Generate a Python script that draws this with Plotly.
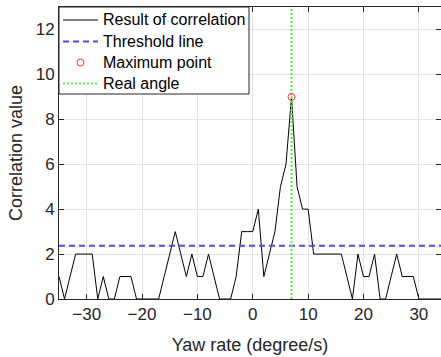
import plotly.graph_objects as go

# Yaw-rate candidates (degree/s) and correlation result at each
yaw_rate = list(range(-35, 35))
correlation = [1, 0, 1, 2, 2, 2, 2, 0, 1, 0,
               0, 1, 1, 1, 0, 0, 0, 0, 0, 1,
               2, 3, 2, 1, 2, 1, 1, 2, 1, 0,
               0, 0, 1, 3, 3, 3, 4, 1, 2, 3,
               5, 6, 9, 5, 4, 4, 2, 2, 2, 2,
               2, 2, 1, 0, 2, 1, 1, 2, 0, 0,
               1, 2, 1, 1, 1, 0, 0, 0, 0, 0]
threshold = 2.37
real_angle = 7
x_range = [-35, 34]
y_range = [0, 13]
legend_labels = ["Result of correlation", "Threshold line", "Maximum point", "Real angle"]

peak_idx = max(range(len(correlation)), key=lambda i: correlation[i])
peak_x = yaw_rate[peak_idx]
peak_y = correlation[peak_idx]

text_color = "#262626"
font_family = "Liberation Sans, Arial, Helvetica, sans-serif"
c_corr = "black"
c_thr = "#4a4aff"
c_peak = "#ff3030"
c_real = "#55ee55"

W, H = 441, 357
ML, MR, MT, MB = 59, 0, 7, 58
PW, PH = W - ML - MR, H - MT - MB


def px_x(p):
    return (p - ML) / PW


def px_y(p):
    return (H - MB - p) / PH


fig = go.Figure()
fig.add_trace(go.Scatter(
    x=yaw_rate, y=correlation, mode="lines",
    line=dict(color=c_corr, width=1), name=legend_labels[0]))
fig.add_trace(go.Scatter(
    x=x_range, y=[threshold, threshold], mode="lines",
    line=dict(color=c_thr, width=2.2, dash="6px,4px"), name=legend_labels[1]))
fig.add_trace(go.Scatter(
    x=[real_angle, real_angle], y=y_range, mode="lines",
    line=dict(color=c_real, width=2.2, dash="2px,2px"), name=legend_labels[3]))
fig.add_trace(go.Scatter(
    x=[peak_x], y=[peak_y], mode="markers",
    marker=dict(symbol="circle-open", color=c_peak, size=7, line=dict(width=1)),
    name=legend_labels[2]))

# Boxed legend in the upper-left corner, drawn with shapes and annotations
box_l, box_r, box_t, box_b = 59, 249, 7, 94
row_y = [20, 41.5, 62.5, 83.5]
sample_l, sample_r, text_x = 63, 98, 101
shapes = [dict(type="rect", xref="paper", yref="paper",
               x0=px_x(box_l), x1=px_x(box_r), y0=px_y(box_b), y1=px_y(box_t),
               fillcolor="white", line=dict(color=text_color, width=1), layer="above")]
sample_styles = [dict(color=c_corr, width=1),
                 dict(color=c_thr, width=2.2, dash="6px,4px"),
                 None,
                 dict(color=c_real, width=2.2, dash="2px,2px")]
for ry, st in zip(row_y, sample_styles):
    if st is None:
        cx, r = (sample_l + sample_r) / 2, 3.5
        shapes.append(dict(type="circle", xref="paper", yref="paper",
                           x0=px_x(cx - r), x1=px_x(cx + r),
                           y0=px_y(ry + r), y1=px_y(ry - r),
                           line=dict(color=c_peak, width=1), layer="above"))
    else:
        shapes.append(dict(type="line", xref="paper", yref="paper",
                           x0=px_x(sample_l), x1=px_x(sample_r),
                           y0=px_y(ry), y1=px_y(ry), line=st, layer="above"))
annotations = [dict(text=lab, xref="paper", yref="paper",
                    x=px_x(text_x), y=px_y(ry), xanchor="left", yanchor="middle",
                    showarrow=False,
                    font=dict(family=font_family, size=16, color="black"))
               for lab, ry in zip(legend_labels, row_y)]

axis_common = dict(
    showline=True, linecolor=text_color, linewidth=1, mirror="ticks",
    ticks="inside", ticklen=5, tickcolor=text_color,
    showgrid=True, gridcolor="#e3e3e3", gridwidth=1,
    zeroline=False,
    tickfont=dict(family=font_family, size=17, color=text_color),
)

fig.update_layout(
    width=W, height=H,
    margin=dict(l=ML, r=MR, t=MT, b=MB),
    plot_bgcolor="white", paper_bgcolor="white",
    font=dict(family=font_family, color=text_color),
    showlegend=False,
    shapes=shapes, annotations=annotations,
    xaxis=dict(
        range=x_range, tickvals=[-30, -20, -10, 0, 10, 20, 30],
        title=dict(text="Yaw rate (degree/s)", standoff=14,
                   font=dict(family=font_family, size=18, color=text_color)),
        **axis_common),
    yaxis=dict(
        range=y_range, tickvals=[0, 2, 4, 6, 8, 10, 12],
        title=dict(text="Correlation value", standoff=8,
                   font=dict(family=font_family, size=18, color=text_color)),
        **axis_common),
)

fig.write_html("out.html")
